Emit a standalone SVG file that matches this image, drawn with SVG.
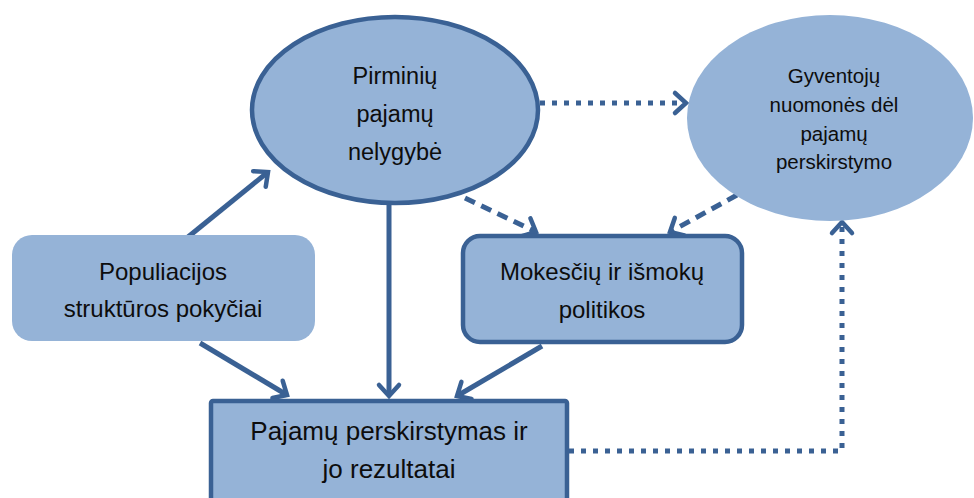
<svg xmlns="http://www.w3.org/2000/svg" width="974" height="498" viewBox="0 0 974 498">
  <style>
    .shape { fill: #95B3D7; }
    .outlined { stroke: #3A6194; stroke-width: 4.5; }
    .label { font-family: "Liberation Sans", Arial, sans-serif; fill: #0d0d0d; text-anchor: middle; }
    .link { fill: none; stroke: #3A6194; stroke-width: 5; marker-end: url(#chevron); }
    .dashed { stroke-dasharray: 11 7; }
    .dotted { stroke-dasharray: 5 7; }
  </style>
  <defs>
    <marker id="chevron" markerUnits="userSpaceOnUse" viewBox="-16 -12 20 24" markerWidth="20" markerHeight="24" refX="0" refY="0" orient="auto" overflow="visible">
      <path d="M-11,-10 L0,0 L-11,10" fill="none" stroke="#3A6194" stroke-width="4.5" stroke-linecap="round" stroke-linejoin="miter"/>
    </marker>
  </defs>

  <!-- connectors -->
  <g id="connectors">
    <line class="link" x1="188" y1="237" x2="268" y2="172"/>
    <line class="link" x1="389" y1="205" x2="389" y2="396"/>
    <line class="link" x1="200" y1="343" x2="287" y2="395"/>
    <line class="link" x1="542" y1="346" x2="457" y2="396"/>
    <line class="link dashed" x1="465" y1="198" x2="536" y2="232"/>
    <line class="link dashed" x1="737" y1="195" x2="670" y2="232"/>
    <line class="link dotted" x1="540" y1="103" x2="686" y2="103"/>
    <polyline class="link dotted" points="569,451 842,451 842,222"/>
  </g>

  <!-- nodes -->
  <g id="node-pirminiu">
    <ellipse class="shape outlined" cx="395" cy="110" rx="143" ry="93"/>
    <text class="label" font-size="23.5"><tspan x="395" y="84">Pirminių</tspan><tspan x="395" y="122">pajamų</tspan><tspan x="395" y="160">nelygybė</tspan></text>
  </g>

  <g id="node-gyventoju">
    <ellipse class="shape" cx="830" cy="118" rx="143" ry="103"/>
    <text class="label" font-size="20.5"><tspan x="834" y="83">Gyventojų</tspan><tspan x="834" y="112">nuomonės dėl</tspan><tspan x="834" y="141">pajamų</tspan><tspan x="834" y="169">perskirstymo</tspan></text>
  </g>

  <g id="node-populiacijos">
    <rect class="shape" x="12" y="235" width="303" height="106" rx="20"/>
    <text class="label" font-size="24"><tspan x="163" y="280">Populiacijos</tspan><tspan x="163" y="317">struktūros pokyčiai</tspan></text>
  </g>

  <g id="node-mokesciu">
    <rect class="shape outlined" x="463" y="236" width="279" height="106" rx="17"/>
    <text class="label" font-size="24"><tspan x="602" y="280">Mokesčių ir išmokų</tspan><tspan x="602" y="318">politikos</tspan></text>
  </g>

  <g id="node-perskirstymas">
    <rect class="shape outlined" x="211" y="401" width="356" height="110" rx="2"/>
    <text class="label" font-size="26"><tspan x="389" y="440">Pajamų perskirstymas ir</tspan><tspan x="389" y="478">jo rezultatai</tspan></text>
  </g>
</svg>
